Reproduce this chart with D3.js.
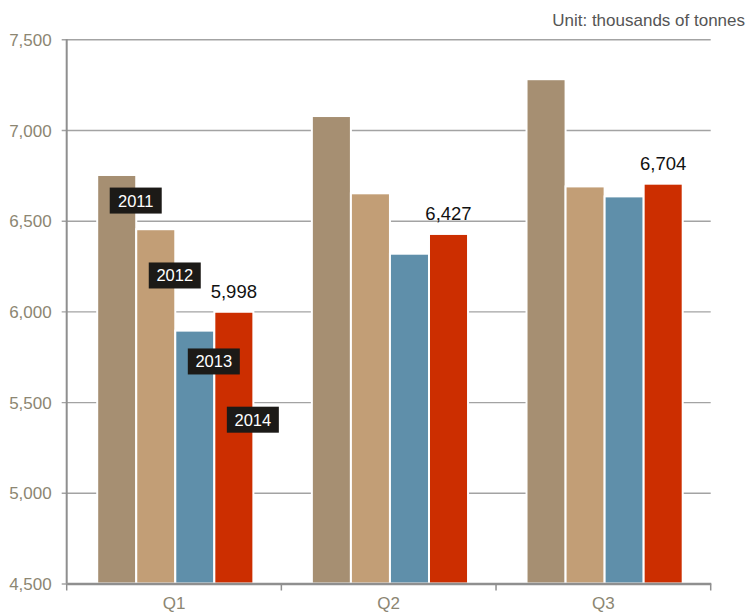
<!DOCTYPE html>
<html>
<head>
<meta charset="utf-8">
<script src="https://cdn.jsdelivr.net/npm/d3@7"></script>
<style>
  body { margin: 0; background: #fff; }
  svg { display: block; font-family: "Liberation Sans", Arial, sans-serif; }
</style>
</head>
<body>
<div id="chart"></div>
<script>
var quarters = ["Q1", "Q2", "Q3"];
var years = ["2011", "2012", "2013", "2014"];
var v2011 = [6752, 7077, 7280];
var v2012 = [6453, 6651, 6689];
var v2013 = [5894, 6318, 6634];
var v2014 = [5998, 6427, 6704];
var yTicks = [4500, 5000, 5500, 6000, 6500, 7000, 7500];
var unitText = "Unit: thousands of tonnes";

var svgWidth = 747;
var svgHeight = 614;
var margin = { top: 39.3, right: 36.3, bottom: 30.5, left: 66.7 };
var width = svgWidth - margin.left - margin.right;
var height = svgHeight - margin.top - margin.bottom;

var colors = { "2011": "#a68f72", "2012": "#c29e76", "2013": "#5f8faa", "2014": "#cc2e00" };
var series = { "2011": v2011, "2012": v2012, "2013": v2013, "2014": v2014 };

var svg = d3.select("#chart").append("svg")
  .attr("width", svgWidth)
  .attr("height", svgHeight);

var chartGroup = svg.append("g")
  .attr("transform", `translate(${margin.left}, ${margin.top})`);

var x0 = d3.scaleBand().domain(quarters).range([0, width]);
var x1 = d3.scaleBand().domain(years).range([30.5, x0.bandwidth() - 28]);
var y = d3.scaleLinear().domain([4500, 7500]).range([height, 0]);

// gridlines + y labels
var leftAxis = d3.axisLeft(y).tickValues(yTicks)
  .tickSize(-width - 5).tickPadding(10)
  .tickFormat(d3.format(","));
var yAxis = chartGroup.append("g")
  .attr("transform", "translate(-5,0)")
  .call(leftAxis);
yAxis.select(".domain").remove();
yAxis.selectAll(".tick line").attr("stroke", "#a3a3a3").attr("stroke-width", 1.4);
yAxis.selectAll(".tick text")
  .attr("fill", "#8c8672").style("font-size", "17px")
  .attr("dy", "0.36em");

// bars
var data = [];
quarters.forEach(function(q, i) {
  years.forEach(function(yr) {
    data.push({ q: q, year: yr, value: series[yr][i] });
  });
});

chartGroup.append("g")
  .selectAll("rect")
  .data(data)
  .enter()
  .append("rect")
  .attr("x", d => x0(d.q) + x1(d.year))
  .attr("y", d => y(d.value))
  .attr("width", x1.bandwidth())
  .attr("height", d => height - y(d.value))
  .attr("fill", d => colors[d.year])
  .attr("stroke", "#fff")
  .attr("stroke-width", 2);

// left axis line
chartGroup.append("line")
  .attr("x1", 0).attr("x2", 0)
  .attr("y1", 0).attr("y2", height)
  .attr("stroke", "#8f8f8f").attr("stroke-width", 2);

// bottom axis
var bottomAxis = d3.axisBottom(x0).tickSize(0).tickPadding(13);
var xAxis = chartGroup.append("g")
  .attr("transform", `translate(0, ${height})`)
  .call(bottomAxis);
xAxis.select(".domain").attr("stroke", "#8f8f8f").attr("stroke-width", 2.5);
xAxis.selectAll(".tick text").attr("fill", "#8c8672").style("font-size", "17px");
xAxis.selectAll(".bound")
  .data(quarters.concat(["end"]))
  .enter()
  .append("line")
  .attr("x1", (d, i) => i * x0.step())
  .attr("x2", (d, i) => i * x0.step())
  .attr("y1", 0).attr("y2", 7)
  .attr("stroke", "#8f8f8f").attr("stroke-width", 1.5);

// value labels on the 2014 series
chartGroup.append("g")
  .selectAll("text")
  .data(data.filter(d => d.year === "2014"))
  .enter()
  .append("text")
  .attr("x", d => x0(d.q) + x1(d.year) + x1.bandwidth() / 2)
  .attr("y", d => y(d.value) - 14)
  .attr("text-anchor", "middle")
  .attr("fill", "#111")
  .style("font-size", "18.5px")
  .text(d => d3.format(",")(d.value));

// year tags on Q1 bars
var tagCenterValue = { "2011": 6611, "2012": 6198, "2013": 5724, "2014": 5403 };
var tags = chartGroup.append("g")
  .selectAll("g")
  .data(years)
  .enter()
  .append("g")
  .attr("transform", d => `translate(${x0("Q1") + x1(d) + x1.bandwidth() / 2 + 19}, ${y(tagCenterValue[d])})`);
tags.append("rect")
  .attr("x", -26).attr("y", -13)
  .attr("width", 52).attr("height", 26)
  .attr("fill", "#1c1a17");
tags.append("text")
  .attr("text-anchor", "middle")
  .attr("dy", "0.36em")
  .attr("fill", "#fff")
  .style("font-size", "16.5px")
  .text(d => d);

// unit note
svg.append("text")
  .attr("x", 745)
  .attr("y", 26)
  .attr("text-anchor", "end")
  .attr("fill", "#555")
  .style("font-size", "17px")
  .text(unitText);
</script>
</body>
</html>
